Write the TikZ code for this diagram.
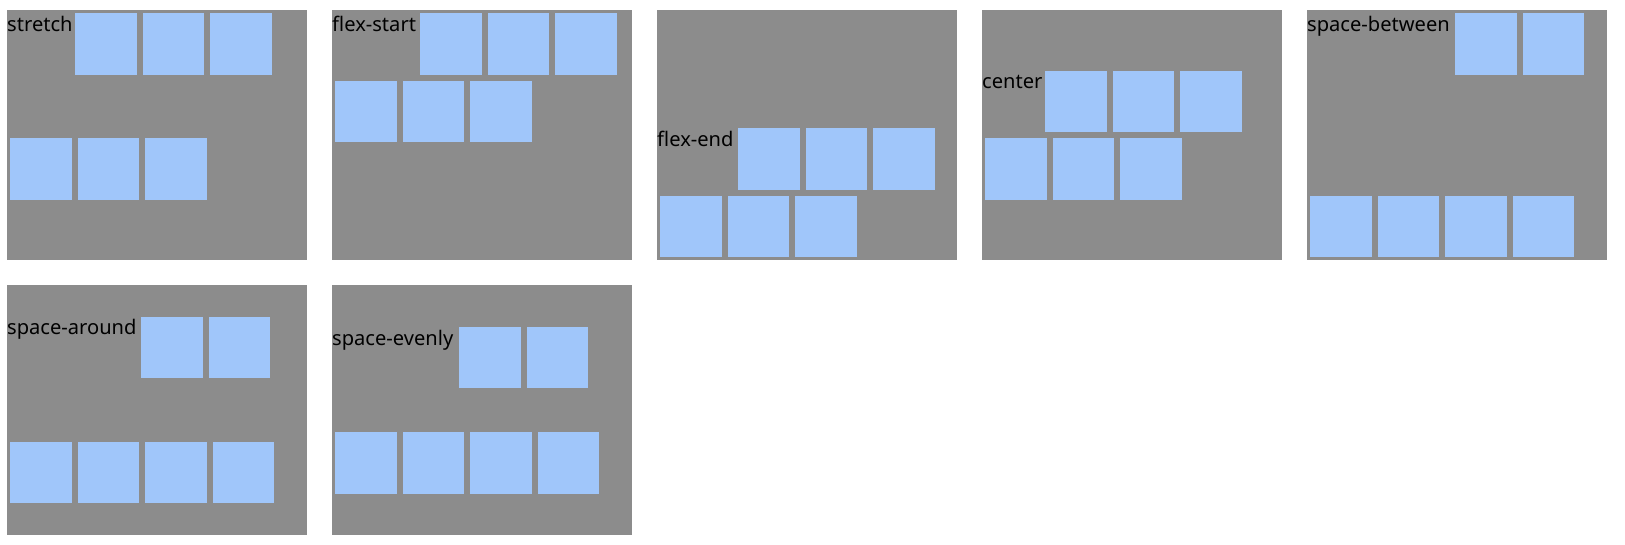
\documentclass[tikz,border=0pt]{standalone}
\usepackage{fontspec}
\setmainfont{Noto Sans}
\definecolor{panelgray}{HTML}{8C8C8C}
\definecolor{itemblue}{HTML}{A0C6FA}
\begin{document}
\begin{tikzpicture}[x=1pt,y=-1pt,
  panelbox/.style={fill=panelgray, draw=none, inner sep=0pt, minimum width=300pt, minimum height=250pt, anchor=north west},
  itembox/.style={fill=itemblue, draw=none, inner sep=0pt, minimum size=61.5pt, anchor=north west},
  lbl/.style={anchor=base west, inner sep=0pt, text=black, font=\fontsize{20.1}{24}\selectfont}]
\fill[white] (0,0) rectangle (1625,544);
\useasboundingbox (0,0) rectangle (1625,544);
% stretch
\node[panelbox] (p1) at (7,10) {};
\node[lbl] (p1l) at (7,31) {stretch};
\foreach \x [count=\i] in {75,142.5,210} \node[itembox] (p1a\i) at (\x,13) {};
\foreach \x [count=\i] in {10,77.5,145} \node[itembox] (p1b\i) at (\x,138) {};
% flex-start
\node[panelbox] (p2) at (332,10) {};
\node[lbl] (p2l) at (332,31) {flex-start};
\foreach \x [count=\i] in {420,487.5,555} \node[itembox] (p2a\i) at (\x,13) {};
\foreach \x [count=\i] in {335,402.5,470} \node[itembox] (p2b\i) at (\x,80.5) {};
% flex-end
\node[panelbox] (p3) at (657,10) {};
\node[lbl] (p3l) at (657,146) {flex-end};
\foreach \x [count=\i] in {738,805.5,873} \node[itembox] (p3a\i) at (\x,128) {};
\foreach \x [count=\i] in {660,727.5,795} \node[itembox] (p3b\i) at (\x,195.5) {};
% center
\node[panelbox] (p4) at (982,10) {};
\node[lbl] (p4l) at (982,88.5) {center};
\foreach \x [count=\i] in {1045,1112.5,1180} \node[itembox] (p4a\i) at (\x,70.5) {};
\foreach \x [count=\i] in {985,1052.5,1120} \node[itembox] (p4b\i) at (\x,138) {};
% space-between
\node[panelbox] (p5) at (1307,10) {};
\node[lbl] (p5l) at (1307,31) {space-between};
\foreach \x [count=\i] in {1455,1522.5} \node[itembox] (p5a\i) at (\x,13) {};
\foreach \x [count=\i] in {1310,1377.5,1445,1512.5} \node[itembox] (p5b\i) at (\x,195.5) {};
% space-around
\node[panelbox] (p6) at (7,285) {};
\node[lbl] (p6l) at (7,334.75) {space-around};
\foreach \x [count=\i] in {141,208.5} \node[itembox] (p6a\i) at (\x,316.75) {};
\foreach \x [count=\i] in {10,77.5,145,212.5} \node[itembox] (p6b\i) at (\x,441.75) {};
% space-evenly
\node[panelbox] (p7) at (332,285) {};
\node[lbl] (p7l) at (332,345) {space-evenly};
\foreach \x [count=\i] in {459,526.5} \node[itembox] (p7a\i) at (\x,326.3) {};
\foreach \x [count=\i] in {335,402.5,470,537.5} \node[itembox] (p7b\i) at (\x,432.2) {};
\end{tikzpicture}
\end{document}
